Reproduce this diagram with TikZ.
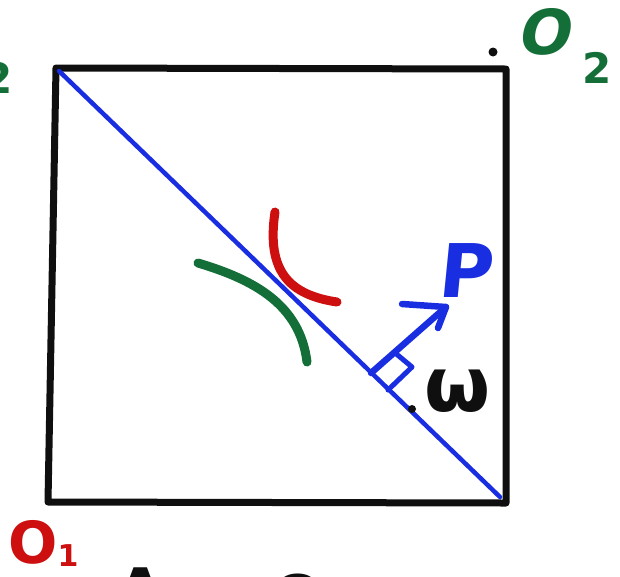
\documentclass[tikz,border=0pt]{standalone}
\usepackage{fontspec}
\newfontfamily\hand{DejaVu Sans}
\usetikzlibrary{arrows.meta}
\definecolor{inkblue}{RGB}{25,45,225}
\definecolor{inkgreen}{RGB}{20,110,55}
\definecolor{inkred}{RGB}{205,15,15}
\definecolor{inkblack}{RGB}{15,15,15}
\tikzset{
  frame/.style={draw=inkblack,line width=7pt,line join=round,line cap=round},
  diag/.style={draw=inkblue,line width=4.5pt,line cap=round},
  marker/.style={line width=9pt,line cap=round},
  arrowstroke/.style={draw=inkblue,line width=6.5pt,line cap=round,line join=round},
  lab/.style={inner sep=0pt,font=\hand\bfseries},
}
\begin{document}
\begin{tikzpicture}[x=1pt,y=-1pt]
\useasboundingbox (0,0) rectangle (620,576);
% square
\coordinate (tl) at (56,68);
\coordinate (tr) at (506,69);
\coordinate (br) at (506,503);
\coordinate (bl) at (48,502);
\draw[frame] (tl) -- (tr) -- (br) -- (bl) -- cycle;
% diagonal
\coordinate (d1) at (59,71);
\coordinate (d2) at (500,497);
\draw[diag] (d1) -- (d2);
% curves
\coordinate (g1) at (198,263);
\coordinate (g2) at (307,362);
\draw[marker,draw=inkgreen] (g1) .. controls (255,280) and (300,305) .. (g2);
\coordinate (r1) at (275,212);
\coordinate (r2) at (337,302);
\draw[marker,draw=inkred] (r1) .. controls (266,272) and (290,295) .. (r2);
% arrow P
\coordinate (base) at (371,373);
\coordinate (tip) at (446,307);
\coordinate (hl) at (402,304);
\coordinate (hr) at (438,328);
\draw[arrowstroke] (base) -- (tip);
\draw[arrowstroke] (hl) -- (tip) -- (hr);
% right angle mark
\coordinate (m1) at (394,352);
\coordinate (mc) at (412,367);
\coordinate (m2) at (388,390);
\draw[arrowstroke,line width=5pt] (m1) -- (mc) -- (m2);
% point w
\node[circle,fill=inkblack,minimum size=8pt,inner sep=0pt] (wdot) at (412,409) {};
\node[lab,text=inkblack,font=\hand\bfseries\fontsize{76}{76}\selectfont] (w) at (458,391) {ω};
\node[lab,text=inkblue,font=\hand\bfseries\fontsize{74}{74}\selectfont,xslant=0.1] (P) at (467,271) {P};
% O2
\node[circle,fill=inkblack,minimum size=9pt,inner sep=0pt] (o2dot) at (493,52) {};
\node[lab,text=inkgreen,font=\hand\bfseries\fontsize{62}{62}\selectfont,xslant=0.2] (O2) at (547,32) {O};
\node[lab,text=inkgreen,font=\hand\bfseries\fontsize{42}{42}\selectfont] (O2s) at (597,68) {2};
\node[lab,text=inkgreen,font=\hand\bfseries\fontsize{42}{42}\selectfont,anchor=east] (left2) at (13,78) {2};
% O1
\node[lab,text=inkred,font=\hand\bfseries\fontsize{58}{58}\selectfont] (O1) at (33,542) {O};
\node[lab,text=inkred,font=\hand\bfseries\fontsize{30}{30}\selectfont] (O1s) at (68,556) {1};
% cut-off letters at bottom
\node[lab,text=inkblack,font=\hand\bfseries\fontsize{60}{60}\selectfont,anchor=north] (A) at (141,568) {A};
\node[lab,text=inkblack,font=\hand\bfseries\fontsize{60}{60}\selectfont,anchor=north] (Ob) at (298,574) {O};
\end{tikzpicture}
\end{document}
